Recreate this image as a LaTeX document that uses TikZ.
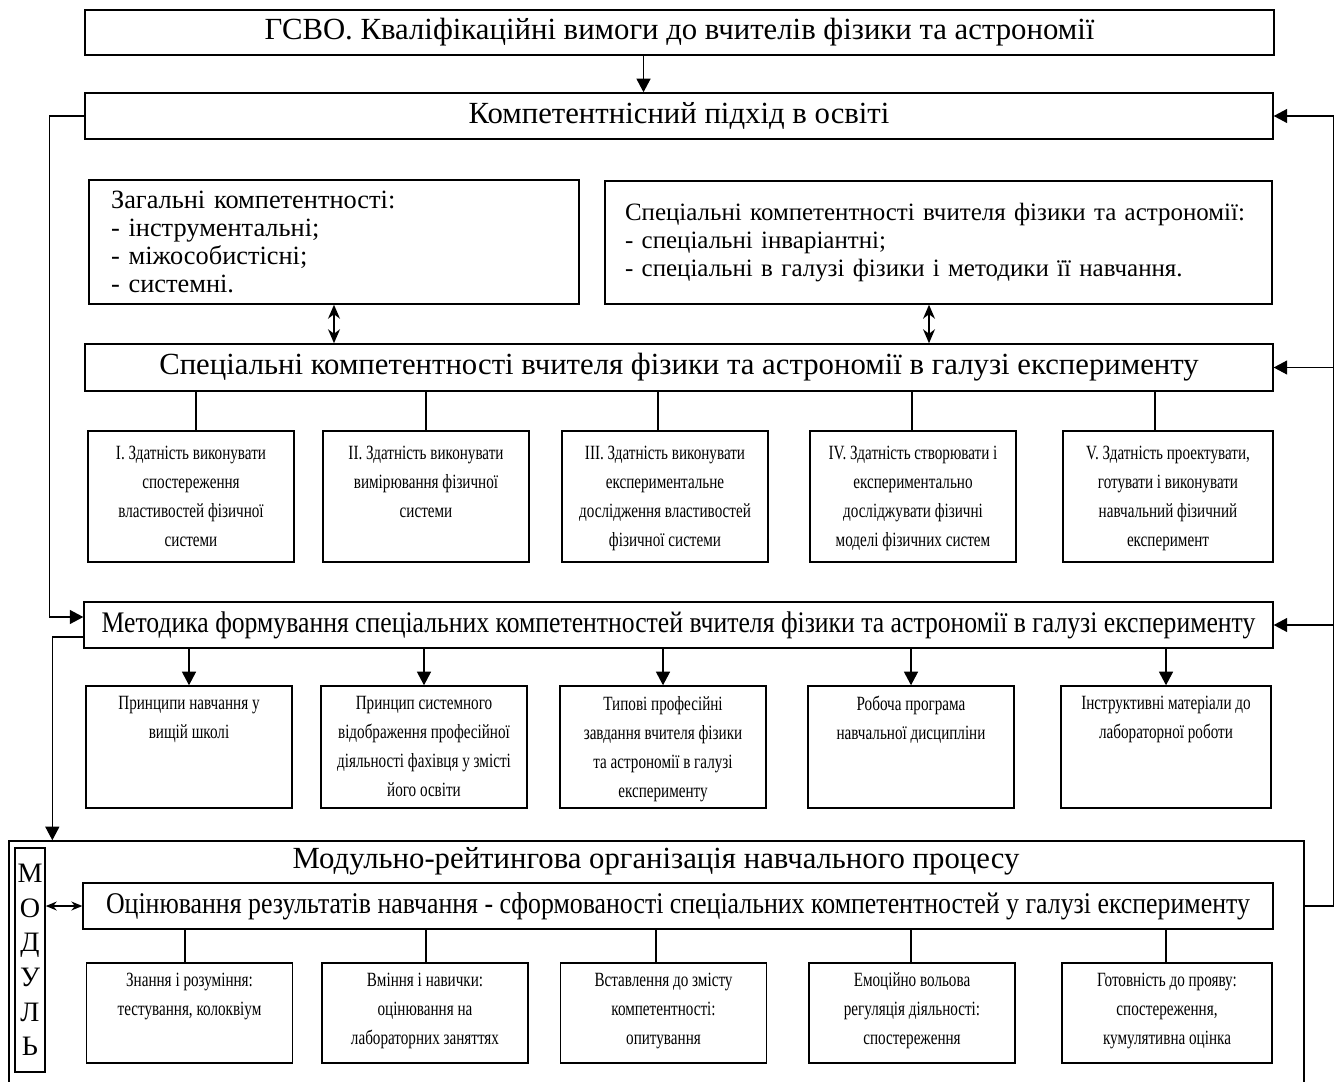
\documentclass[tikz,border=0pt]{standalone}
\usepackage{fontspec}
\setmainfont{Liberation Serif}
\newfontfamily\narrowserif[FakeStretch=0.75]{Liberation Serif}
\newfontfamily\condserif[FakeStretch=0.86]{Liberation Serif}
\usetikzlibrary{arrows.meta, positioning, calc}

\newcommand{\celltext}[2]{\parbox[c][#1][t]{3.9cm}{\centering #2}}

\begin{document}
\begin{tikzpicture}[x=0.02cm, y=-0.02cm,
    box/.style={draw, line width=0.9pt, inner sep=0pt},
    wide/.style={box, minimum width=23.78cm, minimum height=0.92cm, font=\fontsize{17.5}{20}\selectfont},
    listbox/.style={box, minimum height=2.46cm, align=left},
    cell/.style={box, minimum width=4.12cm, inner ysep=0.2cm, font=\narrowserif\fontsize{11.5}{16.5}\selectfont},
    link/.style={line width=0.7pt},
    arr/.style={link, -{Triangle[length=0.27cm, width=0.28cm]}},
    dbl/.style={link, {Stealth[length=0.28cm, width=0.24cm]}-{Stealth[length=0.28cm, width=0.24cm]}}]

    \fill[white] (0,0) rectangle (1341,1081);
    \useasboundingbox (0,0) rectangle (1341,1081);

    % Top: standard and approach
    \node[wide, minimum height=0.9cm] (gsvo) at (679.5,32.5) {ГСВО. Кваліфікаційні вимоги до вчителів фізики та астрономії};
    \node[wide, minimum width=23.76cm] (pidkhid) at (679,116) {Компетентнісний підхід в освіті};
    \draw[arr] ([xshift=-0.72cm]gsvo.south) -- ([xshift=-0.72cm]gsvo.south |- pidkhid.north);

    % Competences
    \node[listbox, text width=8.92cm, inner xsep=0.44cm, minimum height=2.48cm, font=\fontsize{15}{15.8}\selectfont] (zagalni) at (334,242)
        {Загальні компетентності:\\ - інструментальні;\\ - міжособистісні;\\ - системні.};
    \node[listbox, text width=12.54cm, inner xsep=0.4cm, font=\fontsize{14.2}{16.2}\selectfont] (specvch) at (938.5,242.5)
        {Спеціальні компетентності вчителя фізики та астрономії:\\ - спеціальні інваріантні;\\ - спеціальні в галузі фізики і методики її навчання.};
    \node[wide, minimum width=23.76cm, minimum height=0.94cm] (galuz) at (679,367.5)
        {Спеціальні компетентності вчителя фізики та астрономії в галузі експерименту};
    \draw[dbl] (zagalni.south) -- (zagalni.south |- galuz.north);
    \draw[dbl] ([xshift=-0.19cm]specvch.south) -- ([xshift=-0.19cm]specvch.south |- galuz.north);

    % Abilities I-V
    \node[cell, inner ysep=0.3cm] (A1) at (191,496.5) {\celltext{2.02cm}{I. Здатність виконувати\\ спостереження\\ властивостей фізичної\\ системи}};
    \node[cell, inner ysep=0.3cm] (A2) at (426,496.5) {\celltext{2.02cm}{II. Здатність виконувати\\ вимірювання фізичної\\ системи}};
    \node[cell, inner ysep=0.3cm] (A3) at (665,496.5) {\celltext{2.02cm}{III. Здатність виконувати\\ експериментальне\\ дослідження властивостей\\ фізичної системи}};
    \node[cell, inner ysep=0.3cm] (A4) at (913,496.5) {\celltext{2.02cm}{IV. Здатність створювати і\\ експериментально\\ досліджувати фізичні\\ моделі фізичних систем}};
    \node[cell, inner ysep=0.3cm, minimum width=4.2cm] (A5) at (1168,496.5) {\celltext{2.02cm}{V. Здатність проектувати,\\ готувати і виконувати\\ навчальний фізичний\\ експеримент}};
    \foreach \n/\dx in {A1/5, A2/0, A3/-7, A4/-1, A5/-13}
        \draw[link] ([xshift=\dx*0.02cm]\n.north |- galuz.south) -- ([xshift=\dx*0.02cm]\n.north);

    % Method
    \node[wide, font=\condserif\fontsize{17}{20}\selectfont] (metod) at (678.5,625)
        {Методика формування спеціальних компетентностей вчителя фізики та астрономії в галузі експерименту};
    \node[cell] (B1) at (189,747) {\celltext{2.04cm}{Принципи навчання у\\ вищій школі}};
    \node[cell] (B2) at (424,747) {\celltext{2.04cm}{Принцип системного\\ відображення професійної\\ діяльності фахівця у змісті\\ його освіти}};
    \node[cell] (B3) at (663,747) {\celltext{2.04cm}{Типові професійні\\ завдання вчителя фізики\\ та астрономії в галузі\\ експерименту}};
    \node[cell] (B4) at (911,747) {\celltext{2.04cm}{Робоча програма\\ навчальної дисципліни}};
    \node[cell, minimum width=4.2cm] (B5) at (1166,747) {\celltext{2.04cm}{Інструктивні матеріали до\\ лабораторної роботи}};
    \foreach \n in {B1, B2, B3, B4, B5}
        \draw[arr] (\n.north |- metod.south) -- (\n.north);

    % Module-rating organisation
    \node[box, minimum width=25.9cm, minimum height=5.58cm] (modul) at (656.5,980.5) {};
    \node[font=\fontsize{17.5}{20}\selectfont] (modtitle) at (656,861) {Модульно-рейтингова організація навчального процесу};
    \node[box, minimum width=0.6cm, minimum height=4.48cm, align=center, font=\fontsize{16}{19.7}\selectfont] (modlet) at (30,960)
        {М\\О\\Д\\У\\Л\\Ь};
    \node[wide, minimum width=23.8cm, font=\condserif\fontsize{17.1}{20}\selectfont] (otsin) at (678,906)
        {Оцінювання результатів навчання - сформованості спеціальних компетентностей у галузі експерименту};
    \draw[link, {Stealth[length=0.22cm, width=0.18cm]}-{Stealth[length=0.22cm, width=0.18cm]}] (otsin.west -| modlet.east) -- (otsin.west);

    \node[cell] (C1) at (189.5,1013) {\celltext{1.6cm}{Знання і розуміння:\\ тестування, колоквіум}};
    \node[cell] (C2) at (425,1013) {\celltext{1.6cm}{Вміння і навички:\\ оцінювання на\\ лабораторних заняттях}};
    \node[cell] (C3) at (663.5,1013) {\celltext{1.6cm}{Вставлення до змісту\\ компетентності:\\ опитування}};
    \node[cell] (C4) at (912,1013) {\celltext{1.6cm}{Емоційно вольова\\ регуляція діяльності:\\ спостереження}};
    \node[cell, minimum width=4.2cm] (C5) at (1167,1013) {\celltext{1.6cm}{Готовність до прояву:\\ спостереження,\\ кумулятивна оцінка}};
    \foreach \n/\dx in {C1/-4.5, C2/1, C3/-7.5, C4/-1, C5/-1}
        \draw[link] ([xshift=\dx*0.02cm]\n.north |- otsin.south) -- ([xshift=\dx*0.02cm]\n.north);

    % Feedback lines
    \draw[arr] (pidkhid.west) -- ++(-35,0) |- ([yshift=0.16cm]metod.west);
    \draw[arr] ([yshift=-0.24cm]metod.west) -| ([xshift=0.88cm]modul.north west);
    \draw[arr] (otsin.east -| modul.east) -- ++(29,0) coordinate (rside) |- (pidkhid.east);
    \draw[arr] (rside |- galuz.east) -- (galuz.east);
    \draw[arr] (rside |- metod.east) -- (metod.east);
\end{tikzpicture}
\end{document}
